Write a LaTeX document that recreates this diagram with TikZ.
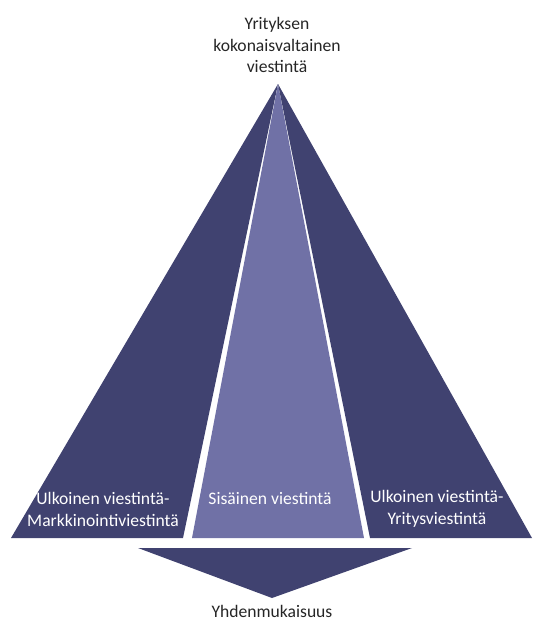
\documentclass[tikz,border=0pt]{standalone}
\usepackage{fontspec}
\setmainfont{Carlito}
\usetikzlibrary{positioning,calc}
\definecolor{darkpanel}{RGB}{64,66,112}
\definecolor{lightpanel}{RGB}{112,113,166}
\definecolor{captiontext}{RGB}{38,38,38}
\tikzstyle{none}=[inner sep=0mm]
\tikzstyle{panel}=[fill=darkpanel,draw=none]
\tikzstyle{midpanel}=[fill=lightpanel,draw=none]
\tikzstyle{label}=[inner sep=0mm,text=white,align=center,font=\fontsize{17.6}{22}\selectfont]
\tikzstyle{caption}=[inner sep=0mm,text=captiontext,align=center,font=\fontsize{17.6}{21.5}\selectfont]

\begin{document}
\begin{tikzpicture}[x=1pt,y=-1pt]
	\useasboundingbox (0,0) rectangle (533,621);
	% corners of the pyramid
	\coordinate (apex) at (278, 84);
	\coordinate (ll) at (11, 538);
	\coordinate (lr) at (183, 538);
	\coordinate (ml) at (192, 538);
	\coordinate (mr) at (364, 538);
	\coordinate (rl) at (370, 538);
	\coordinate (rr) at (532, 538);
	% arrow below
	\coordinate (al) at (138, 548);
	\coordinate (ar) at (412, 548);
	\coordinate (tip) at (272, 598);

	\fill[panel] (apex) -- (ll) -- (lr) -- cycle;
	\fill[midpanel] (apex) -- (ml) -- (mr) -- cycle;
	\fill[panel] (apex) -- (rl) -- (rr) -- cycle;
	\fill[panel] (al) -- (ar) -- (tip) -- cycle;

	\node [style=caption] (top) at (277, 45) {Yrityksen\\kokonaisvaltainen\\viestintä};
	\node [style=label] (left) at (103, 509) {Ulkoinen viestintä-\\Markkinointiviestintä};
	\node [style=label] (mid) at (270, 498) {Sisäinen viestintä};
	\node [style=label] (right) at (437, 509) {Ulkoinen viestintä-\\Yritysviestintä};
	\node [style=caption] (bottom) at (272, 611) {Yhdenmukaisuus};
\end{tikzpicture}
\end{document}
